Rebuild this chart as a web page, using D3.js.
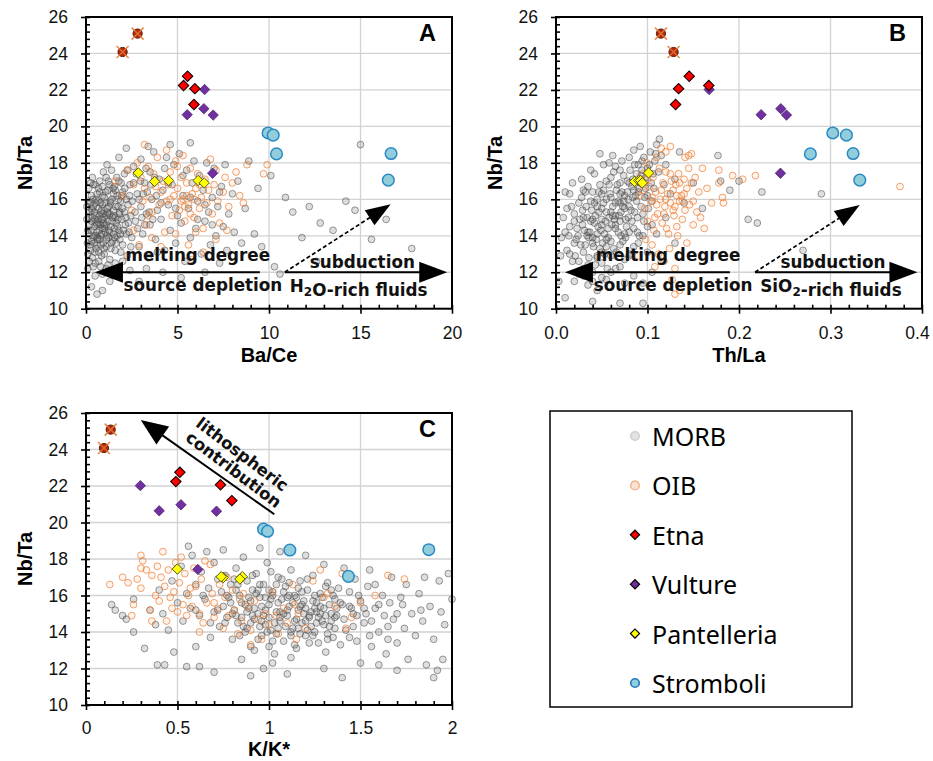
<!DOCTYPE html>
<html><head><meta charset="utf-8">
<script src="https://cdn.jsdelivr.net/npm/d3@7"></script>
<style>body{margin:0;background:#fff}svg{display:block}</style>
</head><body><svg id="c" width="933" height="761"></svg>
<script>
// ---------------- DATA ----------------
const legendNames = ["MORB","OIB","Etna","Vulture","Pantelleria","Stromboli"];
const yTicks = [10,12,14,16,18,20,22,24,26];

// Etna (diamonds) & Etna flagged samples (crossed circles)
const etnaNbTa = [22.75, 22.24, 22.07, 21.2];
const etnaBaCe = [5.55, 5.33, 5.95, 5.90];
const etnaThLa = [0.1456, 0.167, 0.134, 0.1307];
const etnaKK   = [0.513, 0.491, 0.735, 0.797];
const etnaXNbTa = [24.08, 25.09];
const etnaXBaCe = [2.0, 2.82];
const etnaXThLa = [0.1285, 0.1147];
const etnaXKK   = [0.098, 0.135];
// Vulture
const vultNbTa = [22.02, 20.97, 20.64, 20.62, 17.43];
const vultBaCe = [6.48, 6.44, 5.53, 6.95, 6.92];
const vultThLa = [0.1674, 0.2457, 0.2242, 0.2519, 0.2453];
const vultKK   = [0.297, 0.519, 0.400, 0.713, 0.611];
// Pantelleria
const pantNbTa = [17.45, 16.98, 17.03, 17.03, 16.9];
const pantBaCe = [2.86, 3.75, 4.51, 6.13, 6.46];
const pantThLa = [0.1012, 0.0859, 0.0905, 0.0925, 0.0943];
const pantKK   = [0.499, 0.75, 0.739, 0.854, 0.841];
// Stromboli
const stroNbTa = [19.64, 19.52, 18.49, 18.51, 17.05];
const stroBaCe = [9.95, 10.23, 10.41, 16.67, 16.52];
const stroThLa = [0.3025, 0.3174, 0.278, 0.3247, 0.332];
const stroKK   = [0.970, 0.992, 1.114, 1.873, 1.434];

// MORB / OIB clouds: [x, Nb/Ta]
const morbA = [[0.15,14.1],[0.2,15.3],[0.25,13.2],[0.3,14.8],[0.3,16.2],[0.35,12.8],[0.4,15.6],[0.4,13.9],[0.45,14.5],[0.5,16.8],[0.5,12.5],[0.55,15.1],[0.6,13.5],[0.6,14.2],[0.65,15.9],[0.7,14.7],[0.7,13.1],[0.75,16.4],[0.8,15.3],[0.8,14.0],[0.85,12.9],[0.9,15.7],[0.9,14.4],[0.95,13.6],[1.0,16.1],[1.0,15.0],[1.05,14.2],[1.1,17.2],[1.1,13.4],[1.15,15.5],[1.2,14.8],[1.2,16.5],[1.25,13.9],[1.3,15.2],[1.3,12.7],[1.35,14.5],[1.4,16.0],[1.4,17.6],[1.45,13.7],[1.5,15.4],[1.5,14.1],[1.55,16.7],[1.6,15.0],[1.6,13.2],[1.65,14.7],[1.7,16.2],[1.75,15.6],[1.8,14.3],[1.8,17.0],[1.85,13.8],[1.9,15.9],[1.95,14.9],[2.0,16.4],[2.0,13.5],[2.1,15.3],[2.1,17.4],[2.15,14.6],[2.2,16.0],[2.25,12.9],[2.3,15.7],[2.35,14.2],[2.4,16.8],[2.45,15.1],[2.5,13.9],
[0.2,14.6],[0.35,15.0],[0.45,13.6],[0.55,14.0],[0.65,14.9],[0.75,13.8],[0.85,15.4],[0.95,14.7],[1.05,15.8],[1.15,14.0],[1.25,15.6],[1.35,13.3],[1.45,15.0],[1.55,14.4],[1.65,13.6],[1.75,14.9],[1.85,15.3],[1.95,16.2],[0.25,15.8],[0.4,12.3],[0.6,16.3],[0.8,12.3],[1.0,13.0],[1.2,12.4],[0.3,13.7],[0.5,14.9],[0.7,15.5],[0.9,16.7],[1.1,15.1],[1.3,16.8],[1.5,16.3],[1.7,14.0],[0.1,13.0],[0.12,15.9],[0.18,12.6],[0.5,11.8],[0.9,11.9],[1.4,12.0],[0.3,11.2],[0.6,10.8],[0.35,17.2],[0.15,16.6],
[0.6,14.6],[0.8,14.6],[1.0,14.4],[1.2,15.2],[0.45,15.3],[0.65,13.9],[0.85,14.1],[1.1,14.6],[1.35,15.8],[0.3,15.5],[0.55,13.3],[0.95,15.2],[1.25,14.3],[0.75,15.1],[1.6,16.5],[2.2,14.1],[1.9,13.1],
[0.22,13.5],[0.28,14.3],[0.33,15.4],[0.38,16.0],[0.42,14.0],[0.48,13.1],[0.52,15.8],[0.58,14.7],[0.62,13.8],[0.68,16.6],[0.72,14.3],[0.78,15.8],[0.82,13.5],[0.88,14.9],[0.92,16.2],[0.98,13.3],[1.02,14.6],[1.08,16.4],[1.12,13.8],[1.18,15.3],[1.22,17.0],[1.28,14.2],[1.32,15.9],[1.38,13.6],[1.42,14.8],[1.48,16.6],[1.52,15.1],[1.58,13.9],[1.62,15.6],[1.68,17.2],[1.72,14.5],[1.78,16.0],[1.82,15.2],[1.88,14.1],[1.92,16.9],[1.98,15.5],[2.05,14.3],[2.12,16.6],[2.18,15.0],[2.25,17.6],[2.32,14.7],[2.38,16.2],[2.45,13.4],[2.52,15.9],[2.6,16.9],[2.68,15.3],[2.75,17.4],[2.82,14.4],[2.9,16.0],[2.98,17.0],[3.05,15.0],[3.12,16.3],[3.2,14.6],[3.28,17.7],[3.35,16.4],[3.45,15.3],[3.55,16.8],[3.65,14.9],[3.75,17.2],[3.85,16.2],[0.55,16.0],[0.75,17.0],[0.95,17.5],[1.15,17.9],[0.4,16.8],[0.25,16.9],[0.15,15.0],[0.1,14.3],[0.05,14.9],[0.08,13.6],[0.05,15.6],[0.1,12.2],[0.7,12.6],[1.1,12.2],[1.6,12.5],[2.0,12.6],[1.3,11.5],[0.9,11.0],[2.4,12.1],[4.1,15.8],[4.5,16.9],[4.9,15.5],[5.3,17.3],[5.7,16.1],[6.1,14.9],[6.5,15.7],[6.9,14.6],[7.3,16.4],[4.3,17.7],[3.9,13.1],
[2.6,17.8],[2.7,14.8],[2.8,16.3],[2.9,13.4],[3.0,15.6],[3.0,18.2],[3.1,14.1],[3.2,16.9],[3.3,15.2],[3.4,12.8],[3.5,17.5],[3.5,14.6],[3.6,16.0],[3.7,18.6],[3.8,13.8],[3.9,15.4],[4.0,17.1],[4.1,14.9],[4.2,16.5],[4.3,13.2],[4.4,18.3],[4.5,15.7],[4.6,14.3],[4.7,16.8],[4.8,17.9],[4.9,13.6],[5.0,15.1],[5.1,18.5],[5.2,14.7],[5.3,16.2],[5.4,12.6],[5.5,17.6],[5.6,15.5],[5.7,13.9],[5.8,16.9],[5.9,18.1],[6.0,14.4],[6.1,15.9],[6.2,17.3],[6.3,13.0],[6.4,16.5],[6.5,14.8],[6.6,18.0],[6.7,15.3],[6.8,13.5],[6.9,16.1],[7.0,17.7],[7.1,14.0],[7.2,15.6],[7.3,12.5],[7.4,16.7],[7.5,14.5],[7.6,17.9],[7.7,13.2],[7.8,15.2],[8.0,16.3],[8.1,14.2],[8.3,17.0],[8.5,13.6],[8.7,15.5],[3.3,12.2],[4.2,12.0],[5.2,11.7],[2.9,11.5],[6.5,12.0],[4.6,19.0],[3.4,18.9],[5.7,19.1],[2.2,18.8],[1.8,18.3],
[9.2,14.1],[9.6,13.4],[10.3,12.3],[10.6,11.9],[10.9,16.1],[11.3,15.3],[11.8,13.9],[12.2,15.6],[12.8,14.7],[13.5,14.3],[14.2,15.9],[14.7,15.4],[15.0,19.0],[15.6,13.8],[17.8,13.3],[9.4,16.6],[10.1,17.3],[8.9,18.1],[16.4,14.9],[12.6,12.6]];

const oibA = [[1.6,17.0],[2.0,16.2],[2.3,17.6],[2.5,15.4],[2.6,16.8],[2.8,18.0],[3.0,17.2],[3.1,15.9],[3.2,16.6],[3.3,14.6],[3.4,17.8],[3.5,16.1],[3.6,15.3],[3.7,17.4],[3.8,16.7],[3.9,18.3],[4.0,15.7],[4.1,16.4],[4.2,17.0],[4.3,14.2],[4.4,15.9],[4.5,16.8],[4.6,17.5],[4.7,15.1],[4.8,16.2],[4.9,18.1],[5.0,16.6],[5.1,15.4],[5.2,17.2],[5.3,16.0],[5.4,14.8],[5.5,16.9],[5.6,15.7],[5.7,17.7],[5.8,16.3],[5.9,15.0],[6.0,16.6],[6.1,17.4],[6.2,15.5],[6.3,16.1],[6.4,14.4],[6.5,17.1],[6.6,15.8],[6.7,16.5],[6.8,18.2],[6.9,15.2],[7.0,16.8],[7.1,17.6],[7.2,15.9],[7.3,14.7],[7.5,16.4],[7.6,17.2],[7.8,15.6],[8.0,16.9],[8.2,17.5],[8.4,16.2],[8.6,15.8],[8.8,17.9],[2.9,13.5],[3.6,13.9],[4.9,14.1],[5.6,13.5],[6.4,13.1],[7.1,13.8],[5.3,18.4],[4.4,18.7],[3.2,19.0],[9.7,17.4],[9.9,17.9],[5.8,12.7],[7.7,14.3],[6.0,14.2],[5.4,15.6],[5.9,16.0],[5.0,17.8],[4.1,13.4],[3.4,15.1],[2.6,14.3],[5.5,16.2],[5.7,15.2],[6.2,16.8],[4.6,16.0],[5.2,15.9]];

const morbB = [[0.012,13.2],[0.015,14.5],[0.018,12.6],[0.02,15.2],[0.022,13.8],[0.025,11.9],[0.026,14.9],[0.028,16.1],[0.03,13.1],[0.031,14.3],[0.033,15.6],[0.035,12.4],[0.036,13.9],[0.038,14.8],[0.04,16.4],[0.041,13.4],[0.043,15.1],[0.045,12.8],[0.046,14.5],[0.048,16.8],[0.05,15.5],[0.051,13.6],[0.053,14.1],[0.055,16.0],[0.056,12.2],[0.058,15.0],[0.06,17.2],[0.061,14.6],[0.063,13.3],[0.065,15.8],[0.066,16.5],[0.068,14.2],[0.07,17.6],[0.071,15.3],[0.073,13.7],[0.075,16.2],[0.076,14.9],[0.078,17.0],[0.08,15.6],[0.081,13.0],[0.083,16.7],[0.085,14.4],[0.086,17.9],[0.088,15.9],[0.09,16.4],[0.091,14.0],[0.093,17.3],[0.095,15.2],[0.096,18.3],[0.098,16.6],[0.1,17.7],[0.101,15.5],[0.103,18.6],[0.104,16.9],[0.106,17.4],
[0.02,13.6],[0.024,14.0],[0.029,14.6],[0.032,13.5],[0.034,15.0],[0.037,14.2],[0.039,15.4],[0.042,14.7],[0.044,13.8],[0.047,15.3],[0.049,14.3],[0.052,15.8],[0.054,14.8],[0.057,13.9],[0.059,16.3],[0.062,15.6],[0.064,14.9],[0.067,16.8],[0.069,15.1],[0.072,16.4],[0.074,15.9],[0.077,14.5],[0.079,16.0],[0.082,15.4],[0.084,17.1],[0.087,16.2],[0.089,15.0],[0.092,16.9],[0.094,17.6],[0.097,16.1],[0.045,16.0],[0.055,17.0],[0.035,16.7],[0.065,17.8],[0.025,15.8],[0.015,16.3],[0.04,12.0],[0.05,12.5],[0.06,12.9],[0.07,13.5],[0.03,12.2],[0.02,11.5],[0.035,11.3],[0.045,11.0],[0.055,11.6],[0.065,12.2],[0.075,12.7],[0.08,14.2],[0.09,13.6],[0.1,14.5],
[0.04,13.9],[0.05,14.6],[0.06,15.3],[0.07,14.8],[0.045,15.6],[0.055,13.4],[0.065,14.4],[0.075,15.5],[0.085,16.5],[0.035,14.2],[0.03,15.0],[0.06,16.1],[0.05,13.1],[0.08,16.9],[0.07,16.3],[0.04,14.9],
[0.014,14.0],[0.017,15.6],[0.021,12.9],[0.023,14.4],[0.027,13.5],[0.029,15.4],[0.032,16.4],[0.034,14.0],[0.036,12.8],[0.038,15.9],[0.04,13.6],[0.042,15.8],[0.043,12.4],[0.045,14.1],[0.047,16.4],[0.048,13.3],[0.05,14.9],[0.052,16.5],[0.053,13.0],[0.055,15.3],[0.057,14.4],[0.058,16.8],[0.06,13.7],[0.062,15.1],[0.063,17.5],[0.065,14.6],[0.066,13.1],[0.068,15.9],[0.07,16.9],[0.071,14.0],[0.073,15.6],[0.074,17.3],[0.076,13.9],[0.078,16.4],[0.079,15.0],[0.081,17.6],[0.083,14.8],[0.084,16.1],[0.086,15.3],[0.088,17.4],[0.089,14.2],[0.091,16.6],[0.093,15.6],[0.094,18.1],[0.096,14.8],[0.098,17.2],[0.1,16.2],[0.102,17.9],[0.105,15.9],[0.107,16.6],[0.109,18.5],[0.06,12.0],[0.05,11.7],[0.07,12.3],[0.08,12.9],[0.04,11.5],[0.03,11.8],[0.025,12.6],[0.015,13.0],[0.01,14.2],[0.012,15.5],[0.018,16.9],[0.028,17.1],[0.042,17.4],[0.052,17.9],[0.062,18.4],[0.072,18.1],[0.08,18.3],[0.09,17.9],[0.045,12.9],[0.055,13.8],[0.065,15.1],[0.075,14.1],[0.085,13.4],[0.095,14.0],[0.105,14.6],[0.02,14.8],[0.03,16.5],[0.05,16.3],[0.07,15.8],
[0.005,12.9],[0.008,15.0],[0.01,16.4],[0.006,13.9],[0.003,11.5],[0.01,10.6],[0.04,10.4],[0.07,10.3],[0.075,11.4],[0.058,18.0],[0.048,18.5],[0.038,17.6],[0.085,18.7],[0.092,18.9],[0.11,19.0],[0.113,19.3],[0.108,18.1],[0.112,17.5],[0.115,18.4],[0.118,16.8],[0.12,17.9],[0.125,16.3],[0.13,17.1],[0.135,18.6],[0.14,15.8],[0.15,16.9],[0.16,15.5],[0.177,18.4],[0.18,17.0],[0.19,16.5],[0.2,17.0],[0.21,14.9],[0.22,14.7],[0.225,16.4],[0.27,13.2],[0.29,16.3],[0.115,12.6],[0.105,12.0],[0.095,11.4],[0.085,11.8],[0.1,13.1],[0.11,14.1],[0.12,15.0],[0.13,13.6],[0.095,10.3]];

const oibB = [[0.092,16.2],[0.095,17.4],[0.097,15.5],[0.099,18.0],[0.1,14.8],[0.102,16.7],[0.104,15.9],[0.106,17.2],[0.107,14.3],[0.109,16.4],[0.11,18.3],[0.111,15.2],[0.113,17.7],[0.114,16.0],[0.116,14.7],[0.117,16.9],[0.119,15.6],[0.12,17.5],[0.122,16.3],[0.123,14.1],[0.125,15.8],[0.126,17.0],[0.128,16.5],[0.129,15.1],[0.131,16.8],[0.132,14.5],[0.134,17.4],[0.135,15.9],[0.137,16.2],[0.138,14.9],[0.14,17.1],[0.141,15.4],[0.143,16.6],[0.145,18.4],[0.146,15.7],[0.148,16.9],[0.15,14.6],[0.152,17.2],[0.154,15.3],[0.156,16.4],[0.105,13.5],[0.112,13.0],[0.118,12.6],[0.098,13.8],[0.124,13.3],[0.13,12.2],[0.09,12.9],[0.108,12.3],[0.127,11.6],[0.135,11.0],[0.13,10.8],[0.115,18.8],[0.12,18.6],[0.125,18.9],[0.148,18.5],[0.141,18.3],[0.16,17.7],[0.165,16.6],[0.17,15.8],[0.178,17.6],[0.178,16.9],[0.182,16.1],[0.183,15.8],[0.193,17.3],[0.204,17.1],[0.218,17.3],[0.376,16.7],[0.158,15.0],[0.162,14.4],[0.105,16.1],[0.11,15.7],[0.115,16.5],[0.12,16.0],[0.125,17.4],[0.13,15.6],[0.135,16.9],[0.14,16.3],[0.145,17.7],[0.15,15.9],[0.1,17.1],[0.095,16.5],[0.133,14.0],[0.121,14.4],[0.143,13.6],[0.118,15.2],[0.128,15.4],[0.138,15.9],[0.108,15.0],[0.132,16.2]];

const morbC = [[0.2,14.9],[0.26,15.8],[0.32,13.1],[0.35,15.2],[0.38,14.4],[0.4,16.3],[0.42,15.0],[0.45,14.1],[0.47,16.8],[0.5,15.6],[0.52,17.6],[0.53,14.6],[0.55,16.1],[0.57,15.3],[0.58,18.2],[0.6,16.6],[0.62,14.9],[0.63,17.3],[0.65,15.8],[0.67,16.4],[0.68,13.7],[0.7,17.8],[0.7,15.1],[0.72,16.9],[0.39,12.2],[0.43,12.2],[0.14,15.5],[0.16,15.2],[0.26,14.0],[0.22,14.7],[0.48,12.9],[0.56,18.7],[0.66,18.4],[0.6,13.2],
[0.73,14.3],[0.74,16.2],[0.75,15.4],[0.76,17.1],[0.77,14.8],[0.78,15.9],[0.79,16.6],[0.8,13.6],[0.81,15.2],[0.82,17.5],[0.83,14.5],[0.84,16.0],[0.85,15.6],[0.86,18.1],[0.87,14.0],[0.88,16.8],[0.89,15.3],[0.9,13.2],[0.91,16.3],[0.92,14.7],[0.93,17.2],[0.94,15.0],[0.95,15.9],[0.96,13.8],[0.97,16.6],[0.98,14.4],[0.99,17.8],[1.0,15.5],[1.01,14.1],[1.02,16.2],[1.03,12.8],[1.04,15.1],[1.05,17.0],[1.06,14.6],[1.07,15.8],[1.08,13.5],[1.09,16.5],[1.1,14.9],[1.11,15.4],[1.12,17.4],[1.13,14.2],[1.14,16.0],[1.15,13.1],[1.16,15.2],[1.17,16.8],[1.18,14.5],[1.19,15.7],[1.2,13.8],[1.21,16.3],[1.22,14.8],[1.23,15.1],[1.24,17.1],[1.25,14.0],[1.26,15.6],[1.27,13.4],[1.28,16.1],[1.29,14.6],[1.3,15.3],[1.31,12.9],[1.32,16.7],[1.33,14.3],[1.34,15.0],[1.35,13.7],[1.36,15.8],[1.37,14.9],[1.38,16.4],[1.39,13.3],[1.4,15.5],
[0.8,15.0],[0.85,14.8],[0.9,15.7],[0.95,14.3],[1.0,16.3],[1.05,15.6],[1.1,15.9],[1.15,14.7],[1.2,15.3],[1.25,16.0],[1.3,14.4],[1.35,16.0],[0.88,15.1],[0.93,16.1],[0.98,15.2],[1.03,14.5],[1.08,15.0],[1.13,15.6],[1.18,16.2],[1.23,14.3],[1.28,15.0],[1.33,15.5],[0.82,16.3],[0.97,14.9],[1.07,16.9],[1.17,13.9],[1.27,14.8],[0.77,16.0],[0.92,13.0],[1.02,12.3],[1.12,12.6],[0.97,12.0],[0.85,12.5],[1.06,18.4],[0.95,18.6],[0.75,18.5],[1.2,18.2],[1.3,17.7],
[1.0,14.8],[1.05,14.2],[1.1,15.2],[1.15,15.9],[1.2,14.6],[1.25,15.3],[0.9,14.5],[0.95,16.6],[1.12,13.8],[1.22,13.4],[1.32,13.9],[1.02,13.5],[0.87,15.5],[1.17,15.4],[1.37,15.3],
[0.72,15.2],[0.76,14.5],[0.79,15.6],[0.83,16.6],[0.86,14.3],[0.89,15.9],[0.91,14.9],[0.94,16.3],[0.96,15.4],[0.99,14.0],[1.01,15.8],[1.04,16.6],[1.06,15.1],[1.09,14.3],[1.11,16.0],[1.14,14.6],[1.16,16.4],[1.19,15.0],[1.21,14.1],[1.24,15.7],[1.26,14.5],[1.29,15.9],[1.31,14.9],[1.34,16.3],[1.36,14.2],[1.39,15.6],[1.41,14.7],[1.44,15.4],[1.46,14.3],[1.49,16.0],[0.84,13.8],[0.94,13.6],[1.04,13.9],[1.14,13.3],[1.24,13.8],[1.34,14.6],[1.44,13.7],[0.81,16.9],[0.91,17.1],[1.01,17.3],[1.11,16.7],[1.21,16.9],[1.31,16.5],[0.98,15.9],[1.08,16.2],[1.18,15.5],[1.28,15.4],[0.88,14.2],[0.96,14.6],[1.06,14.8],[1.16,14.2],[1.26,15.1],[1.36,14.8],[0.64,16.0],[0.6,15.2],[0.68,14.5],[1.52,15.3],[1.56,14.6],[1.6,15.5],[1.65,14.3],[1.7,15.0],[1.58,16.6],[1.0,13.2],[1.12,14.0],[1.22,14.9],[0.92,15.3],[0.82,14.9],[1.02,16.0],[1.32,13.6],[1.48,14.9],
[1.42,14.1],[1.44,16.2],[1.46,15.0],[1.48,13.5],[1.5,15.7],[1.52,14.5],[1.54,16.5],[1.56,13.2],[1.58,15.3],[1.6,14.0],[1.62,16.0],[1.64,12.8],[1.66,15.6],[1.68,14.7],[1.7,13.4],[1.72,15.9],[1.74,14.2],[1.76,12.5],[1.78,15.0],[1.8,13.8],[1.82,16.1],[1.84,14.6],[1.86,12.2],[1.88,15.4],[1.9,13.6],[1.92,11.9],[1.94,15.1],[1.96,14.4],[1.98,17.2],[2.0,15.8],[1.47,16.9],[1.55,17.4],[1.67,17.0],[1.75,16.6],[1.85,17.0],[1.93,16.8],[1.6,12.2],[1.7,11.9],[1.5,12.3],[1.9,11.5],[1.95,12.5],[1.45,15.3],[1.53,15.0],[1.63,14.9],[1.73,15.5],[1.83,15.2],[1.41,17.5],[1.55,13.8],[1.65,13.6],
[0.55,12.1],[0.62,12.1],[0.7,11.8],[0.9,11.6],[1.1,11.7],[1.3,12.0],[1.4,11.5]];

const oibC = [[0.13,16.6],[0.2,17.0],[0.23,16.7],[0.26,15.5],[0.28,16.9],[0.3,17.5],[0.31,17.9],[0.33,17.4],[0.35,15.2],[0.36,17.1],[0.38,16.0],[0.39,17.6],[0.4,15.7],[0.41,17.0],[0.43,16.5],[0.44,14.6],[0.45,17.4],[0.46,15.9],[0.48,16.2],[0.49,17.8],[0.5,15.1],[0.51,16.7],[0.53,15.5],[0.54,17.2],[0.55,14.9],[0.56,16.0],[0.58,15.4],[0.59,17.5],[0.6,16.5],[0.62,15.0],[0.63,16.9],[0.64,14.5],[0.66,15.6],[0.68,17.7],[0.69,16.1],[0.7,14.8],[0.72,15.3],[0.73,16.6],[0.75,14.2],[0.76,15.9],[0.78,14.9],[0.8,16.3],[0.81,15.2],[0.83,13.9],[0.85,14.6],[0.86,16.1],[0.88,15.4],[0.9,14.1],[0.92,15.7],[0.94,14.7],[0.96,13.6],[0.98,15.0],[1.0,14.4],[1.02,16.2],[1.05,13.9],[1.08,15.3],[1.1,14.5],[1.13,16.6],[1.16,15.0],[1.2,14.2],[1.24,16.8],[1.28,17.4],[1.32,16.1],[1.36,15.4],[1.4,17.2],[1.45,14.8],[1.5,15.6],[1.58,16.0],[1.65,17.1],[1.74,16.9],[1.3,15.9],[0.65,17.9],[0.3,16.4],[0.25,14.9],[0.62,14.0],[0.77,17.0],[0.9,13.3],[1.15,13.6],[1.42,14.2],[0.52,18.1],[0.42,18.4],[0.3,18.2],[0.7,15.6],[0.57,16.4],[0.47,15.3],[0.36,14.6],[1.04,14.9],[0.84,15.8],[1.14,15.5]];

// ---------------- DRAWING ----------------
const svg = d3.select("#c");
const FONT = "'Liberation Sans', Arial, sans-serif";
const LEGFONT = "'Noto Sans', 'Liberation Sans', sans-serif";
const ANN = "'DejaVu Sans', sans-serif";

function zipXY(xs, ys){ return xs.map((v,i)=>[v, ys[i]]); }

function arrow(g, x1, y1, x2, y2, L, w, dashed){
  const dx = x2-x1, dy = y2-y1, len = Math.hypot(dx,dy);
  const ux = dx/len, uy = dy/len;
  const bx = x2-ux*L, by = y2-uy*L;
  g.append("line").attr("x1",x1).attr("y1",y1).attr("x2",bx+ux*2).attr("y2",by+uy*2)
    .attr("stroke","#000").attr("stroke-width", dashed?1.7:2)
    .attr("stroke-dasharray", dashed?"4,2.5":null);
  g.append("path").attr("d",`M${x2},${y2}L${bx-uy*w},${by+ux*w}L${bx+uy*w},${by-ux*w}Z`).attr("fill","#000");
}

function annText(g, tx, ty, parts){
  const t = g.append("text").attr("x",tx).attr("y",ty).attr("text-anchor","middle")
    .attr("font-family",ANN).attr("font-weight","bold").attr("font-size",16.8).attr("fill","#111");
  parts.forEach(pt=>{
    if (typeof pt === "string") t.append("tspan").text(pt);
    else { t.append("tspan").attr("font-size",12).attr("dy",4).text(pt.sub); t.append("tspan").attr("dy",-4).text(""); }
  });
  return t;
}

function panel(p){
  const x = d3.scaleLinear().domain(p.xDomain).range([p.left, p.right]);
  const y = d3.scaleLinear().domain([10,26]).range([p.bottom, p.top]);
  const g = svg.append("g");
  // grid
  g.append("g").selectAll("line").data(p.xMajor.slice(1,-1)).join("line")
    .attr("x1",d=>x(d)).attr("x2",d=>x(d)).attr("y1",p.top).attr("y2",p.bottom)
    .attr("stroke","#d2d2d2").attr("stroke-width",1.3);
  g.append("g").selectAll("line").data(yTicks.slice(1,-1)).join("line")
    .attr("y1",d=>y(d)).attr("y2",d=>y(d)).attr("x1",p.left).attr("x2",p.right)
    .attr("stroke","#d2d2d2").attr("stroke-width",1.3);
  // clouds
  const pts = g.append("g");
  pts.selectAll("circle.m").data(p.morb).join("circle").attr("class","m")
    .attr("cx",d=>x(d[0])).attr("cy",d=>y(d[1])).attr("r",3.4)
    .attr("fill","rgba(90,90,90,0.2)").attr("stroke","#4d4d4d").attr("stroke-opacity",0.55).attr("stroke-width",1);
  pts.selectAll("circle.o").data(p.oib).join("circle").attr("class","o")
    .attr("cx",d=>x(d[0])).attr("cy",d=>y(d[1])).attr("r",3.4)
    .attr("fill","rgba(237,125,49,0.08)").attr("stroke","#ec8037").attr("stroke-opacity",0.72).attr("stroke-width",1);
  // annotations
  p.annot(g, x, y);
  // volcano series
  const diamond = d3.symbol(d3.symbolSquare, 54);
  function diamonds(data, fill, stroke, sw){
    g.append("g").selectAll("path").data(data).join("path")
      .attr("d", diamond)
      .attr("transform", d=>`translate(${x(d[0])},${y(d[1])}) rotate(45)`)
      .attr("fill",fill).attr("stroke",stroke).attr("stroke-width",sw);
  }
  diamonds(p.pant, "#ffff00", "#4d4d1a", 0.9);
  diamonds(p.vult, "#7030a0", "#4a1f6e", 0.7);
  diamonds(p.etna, "#ff0000", "#1a0000", 1.1);
  const ex = g.append("g").selectAll("g").data(p.etnaX).join("g")
    .attr("transform", d=>`translate(${x(d[0])},${y(d[1])})`);
  ex.append("circle").attr("r",4.6).attr("fill","#b5260f").attr("stroke","#5a1a0a").attr("stroke-width",1);
  ex.append("path").attr("d","M-6,-6L6,6M-6,6L6,-6").attr("stroke","#e0782e").attr("stroke-width",1.6).attr("stroke-opacity",0.85);
  g.append("g").selectAll("circle").data(p.stro).join("circle")
    .attr("cx",d=>x(d[0])).attr("cy",d=>y(d[1])).attr("r",5.8)
    .attr("fill","#92cddc").attr("stroke","#2b8ac4").attr("stroke-width",1.5);

  // axes
  const ya = g.append("g").attr("transform",`translate(${p.left},0)`)
    .call(d3.axisLeft(y).tickValues(yTicks).tickSize(5).tickPadding(13).tickFormat(d3.format("d")));
  const ym = g.append("g").attr("transform",`translate(${p.left},0)`)
    .call(d3.axisRight(y).tickValues(d3.range(10,26.001,0.4)).tickSize(4).tickFormat(""));
  const xa = g.append("g").attr("transform",`translate(0,${p.bottom})`)
    .call(d3.axisBottom(x).tickValues(p.xMajor).tickSize(5).tickPadding(p.tickPad).tickFormat(p.xFormat));
  const xm = g.append("g").attr("transform",`translate(0,${p.bottom})`)
    .call(d3.axisTop(x).tickValues(p.xMinor).tickSize(4).tickFormat(""));
  [ya,ym,xa,xm].forEach(a=>{
    a.select(".domain").remove();
    a.selectAll("line").attr("stroke","#000").attr("stroke-width",1.6);
    a.attr("font-family",FONT).attr("font-size",17.5);
    a.selectAll("text").attr("fill","#111");
  });
  if (p.nudgeLast) xa.selectAll("text").filter((d,i,n)=>i===n.length-1).attr("dx",p.nudgeLast);
  g.append("rect").attr("x",p.left).attr("y",p.top).attr("width",p.right-p.left).attr("height",p.bottom-p.top)
    .attr("fill","none").attr("stroke","#000").attr("stroke-width",2);
  g.append("text").attr("transform",`translate(${p.left-61},${(p.top+p.bottom)/2}) rotate(-90)`)
    .attr("text-anchor","middle").attr("dominant-baseline","central")
    .attr("font-family",FONT).attr("font-weight","bold").attr("font-size",20).text("Nb/Ta");
  g.append("text").attr("x",(p.left+p.right)/2).attr("y",p.bottom+p.titleOff)
    .attr("text-anchor","middle").attr("dominant-baseline","central")
    .attr("font-family",FONT).attr("font-weight","bold").attr("font-size",20).text(p.xLabel);
  g.append("text").attr("x",p.right-24.5).attr("y",p.top+16)
    .attr("text-anchor","middle").attr("dominant-baseline","central")
    .attr("font-family",FONT).attr("font-weight","bold").attr("font-size",23.5).text(p.letter);
}

function subductionAnnot(leftTip, leftTail, rightStart, rightTip, dashTip, txtMelt, txtSrc, txtSub, txtFluid, fluidParts){
  return function(g, x, y){
    const yy = y(12);
    arrow(g, x(leftTail), yy, x(leftTip), yy, 28, 10.5, false);
    arrow(g, x(rightStart), yy, x(rightTip), yy, 28, 10.5, false);
    arrow(g, x(rightStart), yy, x(dashTip[0]), y(dashTip[1]), 25, 9, true);
    annText(g, x(txtMelt), yy-11.3, ["melting degree"]);
    annText(g, x(txtSrc), yy+18.8, ["source depletion"]);
    annText(g, x(txtSub), yy-4, ["subduction"]);
    annText(g, x(txtFluid), yy+20, fluidParts);
  };
}

panel({left:86, right:452, top:17, bottom:308.7, xDomain:[0,20], titleOff:46.5, tickPad:12.5,
  xMajor:[0,5,10,15,20], xMinor:d3.range(0,20.001,1), xFormat:d3.format("d"), xLabel:"Ba/Ce", letter:"A",
  morb:morbA, oib:oibA,
  etna:zipXY(etnaBaCe,etnaNbTa), etnaX:zipXY(etnaXBaCe,etnaXNbTa), vult:zipXY(vultBaCe,vultNbTa),
  pant:zipXY(pantBaCe,pantNbTa), stro:zipXY(stroBaCe,stroNbTa),
  annot: subductionAnnot(0.49, 9.5, 10.86, 19.74, [16.65,15.73], 6.11, 6.39, 15.1, 14.9, ["H",{sub:"2"},"O-rich fluids"])
});
panel({left:556, right:922, top:17, bottom:308.7, xDomain:[0,0.4], nudgeLast:-5, titleOff:46.5, tickPad:12.5,
  xMajor:[0,0.1,0.2,0.3,0.4], xMinor:d3.range(0,0.4001,0.02), xFormat:d3.format(".1f"), xLabel:"Th/La", letter:"B",
  morb:morbB, oib:oibB,
  etna:zipXY(etnaThLa,etnaNbTa), etnaX:zipXY(etnaXThLa,etnaXNbTa), vult:zipXY(vultThLa,vultNbTa),
  pant:zipXY(pantThLa,pantNbTa), stro:zipXY(stroThLa,stroNbTa),
  annot: subductionAnnot(0.0098, 0.19, 0.2175, 0.395, [0.332,15.69], 0.1224, 0.1279, 0.3027, 0.3005, ["SiO",{sub:"2"},"-rich fluids"])
});
panel({left:86, right:452, top:413, bottom:705, xDomain:[0,2], titleOff:44, tickPad:11.5,
  xMajor:[0,0.5,1,1.5,2], xMinor:d3.range(0,2.001,0.1), xFormat:d=>String(d), xLabel:"K/K*", letter:"C",
  morb:morbC, oib:oibC,
  etna:zipXY(etnaKK,etnaNbTa), etnaX:zipXY(etnaXKK,etnaXNbTa), vult:zipXY(vultKK,vultNbTa),
  pant:zipXY(pantKK,pantNbTa), stro:zipXY(stroKK,stroNbTa),
  annot: function(g, x, y){
    arrow(g, x(1.029), y(20.45), x(0.299), y(25.62), 27, 11, false);
    [["lithospheric",0.853,23.72],["contribution",0.806,22.88]].forEach(([s,a,b])=>{
      g.append("text").attr("transform",`translate(${x(a)},${y(b)}) rotate(37)`)
        .attr("text-anchor","middle").attr("dominant-baseline","central")
        .attr("font-family",ANN).attr("font-weight","bold").attr("font-size",16.5).attr("fill","#111").text(s);
    });
  }
});

// ---------------- LEGEND ----------------
const lg = svg.append("g");
lg.append("rect").attr("x",550).attr("y",411).attr("width",302).attr("height",296)
  .attr("fill","#fff").attr("stroke","#000").attr("stroke-width",1.5);
const ly = d3.scalePoint().domain(legendNames).range([436,683]);
const legendStyle = {
  MORB:{shape:"circle", fill:"#e3e3e3", stroke:"#d0d0d0"},
  OIB:{shape:"circle", fill:"#fbe3d4", stroke:"#f4b894"},
  Etna:{shape:"diamond", fill:"#ff0000", stroke:"#000"},
  Vulture:{shape:"diamond", fill:"#7030a0", stroke:"#000"},
  Pantelleria:{shape:"diamond", fill:"#ffff00", stroke:"#000"},
  Stromboli:{shape:"circle", fill:"#92cddc", stroke:"#1f78c1"}
};
legendNames.forEach(n=>{
  const s = legendStyle[n], cy = ly(n);
  if (s.shape==="circle")
    lg.append("circle").attr("cx",635).attr("cy",cy).attr("r",4.3).attr("fill",s.fill).attr("stroke",s.stroke).attr("stroke-width",1.6);
  else
    lg.append("path").attr("d",d3.symbol(d3.symbolSquare,42)).attr("transform",`translate(635,${cy}) rotate(45)`)
      .attr("fill",s.fill).attr("stroke",s.stroke).attr("stroke-width",1.2);
  lg.append("text").attr("x",652).attr("y",cy).attr("dominant-baseline","central")
    .attr("font-family",LEGFONT).attr("font-size",25).attr("fill","#000").text(n);
});
</script></body></html>
